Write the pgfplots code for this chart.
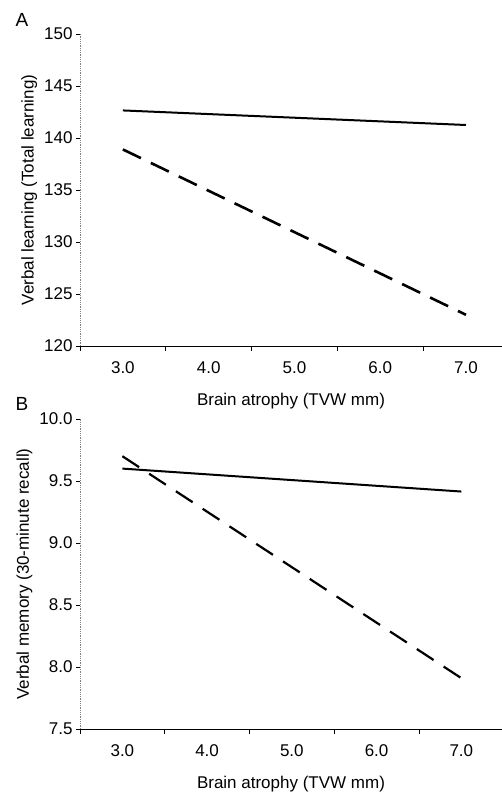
\documentclass[border=0pt]{standalone}
\usepackage{fontspec}
\setmainfont{Liberation Sans}
\usepackage{pgfplots}
\pgfplotsset{compat=1.18}

\pgfplotsset{
  panel/.style={
    scale only axis,
    width=422pt,
    axis x line=bottom,
    axis y line=left,
    axis line style={-},
    x axis line style={black, line width=0.9pt},
    y axis line style={gray, line width=0.8pt, densely dotted},
    xmin=-0.5,
    xtick={0,1,2,3,4},
    xticklabels={3.0,4.0,5.0,6.0,7.0},
    major x tick style={draw=none},
    extra x ticks={-0.5,0.5,1.5,2.5,3.5},
    extra x tick labels={},
    extra x tick style={major x tick style={draw=black, solid, line width=0.8pt}, major tick length=5pt},
    tick align=outside,
    major tick length=4pt,
    major y tick style={draw=black, line width=0.8pt, solid},
    tick label style={font=\fontsize{17}{20}\selectfont},
    label style={font=\fontsize{17}{20}\selectfont},
    /pgf/number format/assume math mode=true,
    xticklabel style={yshift=-8pt},
    xlabel style={yshift=-4pt},
    xlabel={Brain atrophy (TVW mm)},
    clip=false,
  },
}

\begin{document}
\begin{tikzpicture}
\path[use as bounding box] (0,0) rectangle (502pt,793pt);

\begin{axis}[panel,
  at={(80pt,447pt)}, anchor=south west,
  height=312pt,
  xmax=4.42,
  ymin=120, ymax=150,
  ytick={120,125,...,150},
  ylabel={Verbal learning (Total learning)},
]
\addplot[black, line width=2pt] coordinates {(0,142.65) (4,141.25)};
\addplot[black, line width=2.6pt, dash pattern=on 20pt off 11pt] coordinates {(0,138.9) (4,123.0)};
\end{axis}
\node[anchor=base west, font=\fontsize{19}{22}\selectfont] at (12pt,766pt) {A};

\begin{axis}[panel,
  at={(80pt,64pt)}, anchor=south west,
  height=310pt,
  xmax=4.48,
  ymin=7.5, ymax=10,
  ytick={7.5,8.0,...,10.0},
  yticklabel style={/pgf/number format/.cd, fixed, fixed zerofill, precision=1},
  ylabel={Verbal memory (30-minute recall)},
]
\addplot[black, line width=2pt] coordinates {(0,9.6) (4,9.415)};
\addplot[black, line width=2.2pt, dash pattern=on 20pt off 12pt] coordinates {(0,9.7) (4,7.91)};
\end{axis}
\node[anchor=base west, font=\fontsize{19}{22}\selectfont] at (12pt,382pt) {B};
\end{tikzpicture}
\end{document}
